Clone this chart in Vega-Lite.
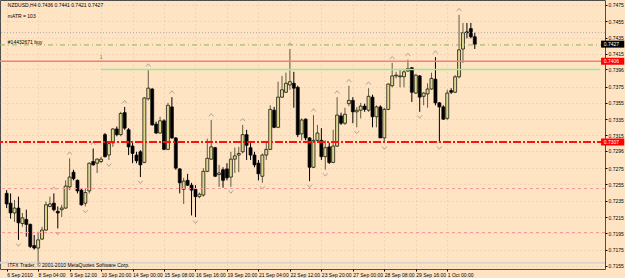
{
"$schema":"https://vega.github.io/schema/vega-lite/v6.json",
"width":605,"height":269,
"autosize":{"type":"none"},
"padding":{"left":0,"top":0,"right":20,"bottom":9},
"background":"#FFE4C4",
"config":{"view":{"stroke":"#4d4d4d","strokeWidth":1},"font":"Liberation Sans","axis":{"domain":false,"labelFontSize":5,"labelColor":"#000","tickColor":"#000","tickSize":2,"gridColor":"#c9a985","gridOpacity":0.5,"gridDash":[1,3],"labelOverlap":false,"labelBound":false}},
"datasets":{
"bars":[
{"i":0,"o":0.7244,"h":0.7248,"l":0.7226,"c":0.7231,"f":""},
{"i":1,"o":0.7232,"h":0.7244,"l":0.7213,"c":0.7220,"f":""},
{"i":2,"o":0.7220,"h":0.7236,"l":0.7209,"c":0.7226,"f":""},
{"i":3,"o":0.7226,"h":0.7240,"l":0.7187,"c":0.7208,"f":"d"},
{"i":4,"o":0.7207,"h":0.7220,"l":0.7203,"c":0.7214,"f":""},
{"i":5,"o":0.7212,"h":0.7224,"l":0.7191,"c":0.7206,"f":""},
{"i":6,"o":0.7206,"h":0.7207,"l":0.7177,"c":0.7179,"f":""},
{"i":7,"o":0.7180,"h":0.7193,"l":0.7175,"c":0.7177,"f":""},
{"i":8,"o":0.7177,"h":0.7197,"l":0.7160,"c":0.7187,"f":""},
{"i":9,"o":0.7188,"h":0.7203,"l":0.7187,"c":0.7199,"f":""},
{"i":10,"o":0.7199,"h":0.7234,"l":0.7198,"c":0.7230,"f":""},
{"i":11,"o":0.7228,"h":0.7240,"l":0.7227,"c":0.7231,"f":""},
{"i":12,"o":0.7232,"h":0.7244,"l":0.7222,"c":0.7224,"f":"u"},
{"i":13,"o":0.7222,"h":0.7228,"l":0.7201,"c":0.7220,"f":"d"},
{"i":14,"o":0.7224,"h":0.7230,"l":0.7215,"c":0.7226,"f":""},
{"i":15,"o":0.7226,"h":0.7260,"l":0.7225,"c":0.7253,"f":""},
{"i":16,"o":0.7252,"h":0.7287,"l":0.7248,"c":0.7264,"f":"u"},
{"i":17,"o":0.7270,"h":0.7273,"l":0.7260,"c":0.7262,"f":""},
{"i":18,"o":0.7260,"h":0.7261,"l":0.7244,"c":0.7247,"f":""},
{"i":19,"o":0.7248,"h":0.7250,"l":0.7229,"c":0.7230,"f":""},
{"i":20,"o":0.7232,"h":0.7250,"l":0.7228,"c":0.7245,"f":"d"},
{"i":21,"o":0.7247,"h":0.7282,"l":0.7244,"c":0.7281,"f":""},
{"i":22,"o":0.7283,"h":0.7299,"l":0.7278,"c":0.7279,"f":"u"},
{"i":23,"o":0.7281,"h":0.7287,"l":0.7269,"c":0.7286,"f":""},
{"i":24,"o":0.7283,"h":0.7289,"l":0.7281,"c":0.7286,"f":""},
{"i":25,"o":0.7316,"h":0.7318,"l":0.7288,"c":0.7289,"f":""},
{"i":26,"o":0.7291,"h":0.7307,"l":0.7285,"c":0.7305,"f":"d"},
{"i":27,"o":0.7306,"h":0.7324,"l":0.7301,"c":0.7323,"f":""},
{"i":28,"o":0.7323,"h":0.7326,"l":0.7314,"c":0.7316,"f":""},
{"i":29,"o":0.7316,"h":0.7344,"l":0.7314,"c":0.7342,"f":""},
{"i":30,"o":0.7343,"h":0.7350,"l":0.7322,"c":0.7324,"f":"u"},
{"i":31,"o":0.7322,"h":0.7324,"l":0.7291,"c":0.7301,"f":""},
{"i":32,"o":0.7302,"h":0.7306,"l":0.7281,"c":0.7293,"f":""},
{"i":33,"o":0.7291,"h":0.7295,"l":0.7281,"c":0.7284,"f":""},
{"i":34,"o":0.7295,"h":0.7297,"l":0.7264,"c":0.7279,"f":"d"},
{"i":35,"o":0.7282,"h":0.7362,"l":0.7281,"c":0.7361,"f":""},
{"i":36,"o":0.7360,"h":0.7395,"l":0.7358,"c":0.7373,"f":"u"},
{"i":37,"o":0.7372,"h":0.7373,"l":0.7327,"c":0.7328,"f":""},
{"i":38,"o":0.7329,"h":0.7332,"l":0.7317,"c":0.7318,"f":""},
{"i":39,"o":0.7318,"h":0.7338,"l":0.7317,"c":0.7333,"f":""},
{"i":40,"o":0.7333,"h":0.7335,"l":0.7297,"c":0.7298,"f":""},
{"i":41,"o":0.7298,"h":0.7355,"l":0.7297,"c":0.7352,"f":""},
{"i":42,"o":0.7350,"h":0.7362,"l":0.7311,"c":0.7312,"f":"u"},
{"i":43,"o":0.7312,"h":0.7313,"l":0.7273,"c":0.7275,"f":""},
{"i":44,"o":0.7274,"h":0.7275,"l":0.7244,"c":0.7257,"f":""},
{"i":45,"o":0.7249,"h":0.7263,"l":0.7231,"c":0.7259,"f":""},
{"i":46,"o":0.7260,"h":0.7268,"l":0.7253,"c":0.7254,"f":""},
{"i":47,"o":0.7254,"h":0.7257,"l":0.7217,"c":0.7248,"f":""},
{"i":48,"o":0.7249,"h":0.7254,"l":0.7215,"c":0.7240,"f":"d"},
{"i":49,"o":0.7240,"h":0.7245,"l":0.7238,"c":0.7243,"f":""},
{"i":50,"o":0.7242,"h":0.7275,"l":0.7240,"c":0.7271,"f":""},
{"i":51,"o":0.7271,"h":0.7311,"l":0.7270,"c":0.7287,"f":""},
{"i":52,"o":0.7286,"h":0.7334,"l":0.7285,"c":0.7301,"f":"u"},
{"i":53,"o":0.7300,"h":0.7301,"l":0.7264,"c":0.7265,"f":""},
{"i":54,"o":0.7267,"h":0.7279,"l":0.7252,"c":0.7269,"f":""},
{"i":55,"o":0.7273,"h":0.7276,"l":0.7251,"c":0.7260,"f":""},
{"i":56,"o":0.7274,"h":0.7281,"l":0.7260,"c":0.7263,"f":""},
{"i":57,"o":0.7264,"h":0.7295,"l":0.7252,"c":0.7286,"f":"d"},
{"i":58,"o":0.7286,"h":0.7300,"l":0.7269,"c":0.7290,"f":""},
{"i":59,"o":0.7291,"h":0.7301,"l":0.7270,"c":0.7293,"f":""},
{"i":60,"o":0.7295,"h":0.7328,"l":0.7293,"c":0.7316,"f":"u"},
{"i":61,"o":0.7316,"h":0.7322,"l":0.7285,"c":0.7303,"f":""},
{"i":62,"o":0.7300,"h":0.7306,"l":0.7285,"c":0.7291,"f":""},
{"i":63,"o":0.7291,"h":0.7295,"l":0.7276,"c":0.7279,"f":""},
{"i":64,"o":0.7281,"h":0.7285,"l":0.7260,"c":0.7268,"f":""},
{"i":65,"o":0.7265,"h":0.7293,"l":0.7257,"c":0.7291,"f":"d"},
{"i":66,"o":0.7291,"h":0.7306,"l":0.7285,"c":0.7298,"f":""},
{"i":67,"o":0.7298,"h":0.7352,"l":0.7297,"c":0.7347,"f":""},
{"i":68,"o":0.7346,"h":0.7350,"l":0.7324,"c":0.7325,"f":""},
{"i":69,"o":0.7325,"h":0.7381,"l":0.7324,"c":0.7362,"f":""},
{"i":70,"o":0.7362,"h":0.7388,"l":0.7361,"c":0.7371,"f":""},
{"i":71,"o":0.7368,"h":0.7392,"l":0.7367,"c":0.7379,"f":""},
{"i":72,"o":0.7377,"h":0.7421,"l":0.7371,"c":0.7381,"f":"u"},
{"i":73,"o":0.7379,"h":0.7393,"l":0.7349,"c":0.7373,"f":""},
{"i":74,"o":0.7374,"h":0.7376,"l":0.7313,"c":0.7316,"f":""},
{"i":75,"o":0.7317,"h":0.7336,"l":0.7309,"c":0.7334,"f":""},
{"i":76,"o":0.7335,"h":0.7336,"l":0.7309,"c":0.7312,"f":""},
{"i":77,"o":0.7312,"h":0.7313,"l":0.7259,"c":0.7276,"f":"d"},
{"i":78,"o":0.7276,"h":0.7340,"l":0.7275,"c":0.7309,"f":"u"},
{"i":79,"o":0.7309,"h":0.7328,"l":0.7307,"c":0.7318,"f":""},
{"i":80,"o":0.7309,"h":0.7324,"l":0.7285,"c":0.7289,"f":""},
{"i":81,"o":0.7289,"h":0.7309,"l":0.7273,"c":0.7300,"f":"d"},
{"i":82,"o":0.7301,"h":0.7306,"l":0.7280,"c":0.7282,"f":""},
{"i":83,"o":0.7282,"h":0.7322,"l":0.7281,"c":0.7302,"f":""},
{"i":84,"o":0.7302,"h":0.7362,"l":0.7301,"c":0.7340,"f":"u"},
{"i":85,"o":0.7339,"h":0.7343,"l":0.7328,"c":0.7330,"f":""},
{"i":86,"o":0.7330,"h":0.7349,"l":0.7328,"c":0.7341,"f":""},
{"i":87,"o":0.7354,"h":0.7376,"l":0.7351,"c":0.7358,"f":"u"},
{"i":88,"o":0.7358,"h":0.7362,"l":0.7330,"c":0.7344,"f":""},
{"i":89,"o":0.7344,"h":0.7350,"l":0.7325,"c":0.7346,"f":"d"},
{"i":90,"o":0.7346,"h":0.7355,"l":0.7336,"c":0.7351,"f":""},
{"i":91,"o":0.7351,"h":0.7354,"l":0.7344,"c":0.7347,"f":""},
{"i":92,"o":0.7346,"h":0.7373,"l":0.7344,"c":0.7363,"f":"u"},
{"i":93,"o":0.7362,"h":0.7365,"l":0.7325,"c":0.7338,"f":""},
{"i":94,"o":0.7338,"h":0.7352,"l":0.7325,"c":0.7350,"f":""},
{"i":95,"o":0.7350,"h":0.7352,"l":0.7312,"c":0.7312,"f":""},
{"i":96,"o":0.7312,"h":0.7349,"l":0.7306,"c":0.7347,"f":"d"},
{"i":97,"o":0.7347,"h":0.7379,"l":0.7346,"c":0.7378,"f":""},
{"i":98,"o":0.7376,"h":0.7404,"l":0.7374,"c":0.7388,"f":"u"},
{"i":99,"o":0.7388,"h":0.7393,"l":0.7385,"c":0.7389,"f":""},
{"i":100,"o":0.7387,"h":0.7395,"l":0.7374,"c":0.7388,"f":""},
{"i":101,"o":0.7387,"h":0.7395,"l":0.7374,"c":0.7393,"f":""},
{"i":102,"o":0.7394,"h":0.7408,"l":0.7393,"c":0.7397,"f":"u"},
{"i":103,"o":0.7398,"h":0.7399,"l":0.7356,"c":0.7368,"f":""},
{"i":104,"o":0.7367,"h":0.7390,"l":0.7366,"c":0.7389,"f":""},
{"i":105,"o":0.7388,"h":0.7389,"l":0.7344,"c":0.7362,"f":"d"},
{"i":106,"o":0.7363,"h":0.7368,"l":0.7352,"c":0.7367,"f":""},
{"i":107,"o":0.7366,"h":0.7379,"l":0.7349,"c":0.7372,"f":""},
{"i":108,"o":0.7372,"h":0.7392,"l":0.7371,"c":0.7385,"f":""},
{"i":109,"o":0.7384,"h":0.7411,"l":0.7352,"c":0.7355,"f":"u"},
{"i":110,"o":0.7355,"h":0.7356,"l":0.7306,"c":0.7350,"f":"d"},
{"i":111,"o":0.7350,"h":0.7352,"l":0.7334,"c":0.7335,"f":""},
{"i":112,"o":0.7336,"h":0.7371,"l":0.7334,"c":0.7367,"f":""},
{"i":113,"o":0.7370,"h":0.7373,"l":0.7366,"c":0.7368,"f":""},
{"i":114,"o":0.7368,"h":0.7389,"l":0.7367,"c":0.7387,"f":""},
{"i":115,"o":0.7387,"h":0.7463,"l":0.7385,"c":0.7420,"f":"u"},
{"i":116,"o":0.7421,"h":0.7453,"l":0.7404,"c":0.7441,"f":""},
{"i":117,"o":0.7442,"h":0.7453,"l":0.7434,"c":0.7441,"f":""},
{"i":118,"o":0.7446,"h":0.7453,"l":0.7434,"c":0.7436,"f":""},
{"i":119,"o":0.7436,"h":0.7441,"l":0.7421,"c":0.7427,"f":""}
],
"levels":[
{"p":0.7441,"kind":"dotted"},
{"p":0.7426,"kind":"order"},
{"p":0.7406,"kind":"salmon"},
{"p":0.7396,"kind":"green","from":24},
{"p":0.7307,"kind":"red"},
{"p":0.7250,"kind":"pink"},
{"p":0.7196,"kind":"pink"},
{"p":0.7159,"kind":"grey"}
],
"tags":[
{"p":0.7427,"label":"0.7427","kind":"bid"},
{"p":0.7406,"label":"0.7406","kind":"line"},
{"p":0.7307,"label":"0.7307","kind":"line"}
]
},
"layer":[
{"data":{"name":"bars"},
 "mark":{"type":"rule","strokeWidth":1},
 "encoding":{
  "x":{"field":"i","type":"quantitative","scale":{"domain":[-0.42,150.83],"nice":false,"zero":false},
   "axis":{"title":null,"orient":"bottom","values":[0,8,16,24,32,40,48,56,64,72,80,88,96,104,112],"tickCount":40,"labelAlign":"left","labelPadding":1,"labelBaseline":"top","grid":true,"labelOverlap":false,"labelFlush":false,
    "labelExpr":"['6 Sep 2010','8 Sep 04:00','9 Sep 12:00','10 Sep 20:00','14 Sep 00:00','15 Sep 08:00','16 Sep 16:00','19 Sep 20:00','21 Sep 04:00','22 Sep 12:00','23 Sep 20:00','27 Sep 00:00','28 Sep 08:00','29 Sep 16:00','1 Oct 00:00'][round(datum.value/8)]"}},
  "y":{"field":"l","type":"quantitative","scale":{"domain":[0.71513,0.74811],"nice":false,"zero":false},
   "axis":{"title":null,"orient":"right","values":[0.7475,0.7455,0.7435,0.7415,0.7396,0.7375,0.7355,0.7335,0.7315,0.7296,0.7275,0.7255,0.7235,0.7215,0.7195,0.7175,0.7155],"tickCount":40,"format":".4f","labelPadding":1,"grid":true,"labelOverlap":false,"labelFlush":false,"labelBaseline":"middle"}},
  "y2":{"field":"h"},
  "stroke":{"condition":{"test":"datum.c >= datum.o","value":"#5e5a40"},"value":"#000000"}}},
{"data":{"name":"levels"},"transform":[{"filter":"datum.kind=='grey'"}],
 "mark":{"type":"rule","stroke":"#d9d4cf","strokeWidth":2},
 "encoding":{"y":{"field":"p","type":"quantitative"}}},
{"data":{"name":"bars"},
 "mark":{"type":"bar","width":3,"stroke":"#000000","strokeWidth":0.7,"orient":"vertical"},
 "encoding":{
  "x":{"field":"i","type":"quantitative"},
  "y":{"field":"o","type":"quantitative"},
  "y2":{"field":"c"},
  "fill":{"condition":{"test":"datum.c >= datum.o","value":"#ddd68c"},"value":"#000000"}}},
{"data":{"name":"bars"},"transform":[{"filter":"datum.f=='u'"}],
 "mark":{"type":"point","shape":"M-1,0.6L0,-0.6L1,0.6","filled":false,"stroke":"#8c8c8c","strokeWidth":1,"size":22,"yOffset":-5},
 "encoding":{
  "x":{"field":"i","type":"quantitative"},
  "y":{"field":"h","type":"quantitative"}}},
{"data":{"name":"bars"},"transform":[{"filter":"datum.f=='d'"}],
 "mark":{"type":"point","shape":"M-1,-0.6L0,0.6L1,-0.6","filled":false,"stroke":"#8c8c8c","strokeWidth":1,"size":22,"yOffset":5},
 "encoding":{
  "x":{"field":"i","type":"quantitative"},
  "y":{"field":"l","type":"quantitative"}}},
{"data":{"name":"levels"},"transform":[{"filter":"datum.kind=='dotted'"}],
 "mark":{"type":"rule","stroke":"#a9a9a9","strokeWidth":1,"strokeDash":[1,2]},
 "encoding":{"y":{"field":"p","type":"quantitative"}}},
{"data":{"name":"levels"},"transform":[{"filter":"datum.kind=='order'"}],
 "mark":{"type":"rule","stroke":"#8db360","strokeWidth":1,"strokeDash":[5,3,1,3]},
 "encoding":{"y":{"field":"p","type":"quantitative"}}},
{"data":{"name":"levels"},"transform":[{"filter":"datum.kind=='salmon'"}],
 "mark":{"type":"rule","stroke":"#f08080","strokeWidth":1.5},
 "encoding":{"y":{"field":"p","type":"quantitative"}}},
{"data":{"name":"levels"},"transform":[{"filter":"datum.kind=='green'"}],
 "mark":{"type":"rule","stroke":"#90ee90","strokeWidth":1.5},
 "encoding":{
  "x":{"field":"from","type":"quantitative"},
  "x2":{"datum":150.83},
  "y":{"field":"p","type":"quantitative"}}},
{"data":{"name":"levels"},"transform":[{"filter":"datum.kind=='red'"}],
 "mark":{"type":"rule","stroke":"#ff1010","strokeWidth":2,"strokeDash":[8,2,2,2]},
 "encoding":{"y":{"field":"p","type":"quantitative"}}},
{"data":{"name":"levels"},"transform":[{"filter":"datum.kind=='pink'"}],
 "mark":{"type":"rule","stroke":"#f29a9a","strokeWidth":1,"strokeDash":[3,3]},
 "encoding":{"y":{"field":"p","type":"quantitative"}}},
{"data":{"name":"tags"},
 "mark":{"type":"rule","strokeWidth":7,"clip":false},
 "encoding":{
  "x":{"datum":151.1,"type":"quantitative"},
  "x2":{"datum":157},
  "y":{"field":"p","type":"quantitative"},
  "stroke":{"condition":{"test":"datum.kind=='bid'","value":"#000000"},"value":"#ff0000"}}},
{"data":{"name":"tags"},
 "mark":{"type":"text","fontSize":5,"align":"left","baseline":"middle","color":"#ffffff","clip":false},
 "encoding":{
  "x":{"datum":151.8,"type":"quantitative"},
  "y":{"field":"p","type":"quantitative"},
  "text":{"field":"label"}}},
{"data":{"values":[
  {"t":"NZDUSD,H4  0.7436 0.7441 0.7421 0.7427","p":0.7475},
  {"t":"mATR = 103","p":0.7462},
  {"t":"#14432671 buy","p":0.7430},
  {"t":"ITFX Trader, © 2001-2010 MetaQuotes Software Corp.","p":0.71560}]},
 "mark":{"type":"text","fontSize":5,"align":"left","baseline":"middle","color":"#000000"},
 "encoding":{
  "x":{"datum":0.3,"type":"quantitative"},
  "y":{"field":"p","type":"quantitative"},
  "text":{"field":"t"}}},
{"data":{"values":[{"t":"1","p":0.7411,"from":24}]},
 "mark":{"type":"text","fontSize":5,"align":"center","baseline":"middle","color":"#6b8e23"},
 "encoding":{
  "x":{"field":"from","type":"quantitative"},
  "y":{"field":"p","type":"quantitative"},
  "text":{"field":"t"}}}
]
}
